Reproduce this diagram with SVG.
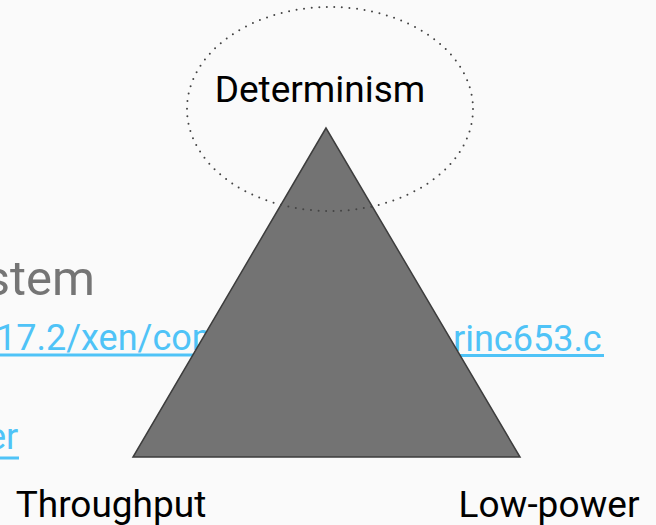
<svg xmlns="http://www.w3.org/2000/svg" width="656" height="525" viewBox="0 0 656 525">
  <style>
    .bg { fill: #fafafa; }
    .title { font-family: Roboto, "Liberation Sans", sans-serif; font-size: 49px; fill: #757575; }
    .link { font-family: Roboto, "Liberation Sans", sans-serif; font-size: 36px; fill: #4fc3f7; }
    .uline { stroke: #4fc3f7; stroke-width: 3; }
    .label { font-family: Roboto, "Liberation Sans", sans-serif; font-size: 37px; fill: #000000; }
    .tri { fill: #737373; stroke: #3d3d3d; stroke-width: 1.5; stroke-linejoin: miter; }
    .halo { fill: none; stroke: #444444; stroke-width: 2; stroke-dasharray: 0 7.6; stroke-linecap: round; }
  </style>

  <rect class="bg" x="0" y="0" width="656" height="525"/>

  <!-- slide text behind the triangle -->
  <g id="backdrop-text">
    <text class="title" x="95" y="295" text-anchor="end">stem</text>
    <text class="link" x="-4" y="350">17.2/xen/com</text>
    <line class="uline" x1="0" y1="355" x2="340" y2="355"/>
    <text class="link" x="453" y="351">rinc653.c</text>
    <line class="uline" x1="330" y1="355.5" x2="604" y2="355.5"/>
    <text class="link" x="-13" y="449">er</text>
    <line class="uline" x1="0" y1="458" x2="19" y2="458"/>
  </g>

  <!-- trade-off triangle -->
  <g id="triangle">
    <polygon class="tri" points="326,128 133,457 520,457"/>
  </g>

  <!-- dotted halo around the apex -->
  <g id="determinism">
    <ellipse class="halo" cx="330" cy="109" rx="143" ry="102"/>
    <text class="label" x="320" y="102" text-anchor="middle">Determinism</text>
  </g>

  <g id="throughput">
    <text class="label" x="111" y="517" text-anchor="middle">Throughput</text>
  </g>

  <g id="low-power">
    <text class="label" x="549" y="517" text-anchor="middle">Low-power</text>
  </g>

  <g id="connectors"/>
</svg>
